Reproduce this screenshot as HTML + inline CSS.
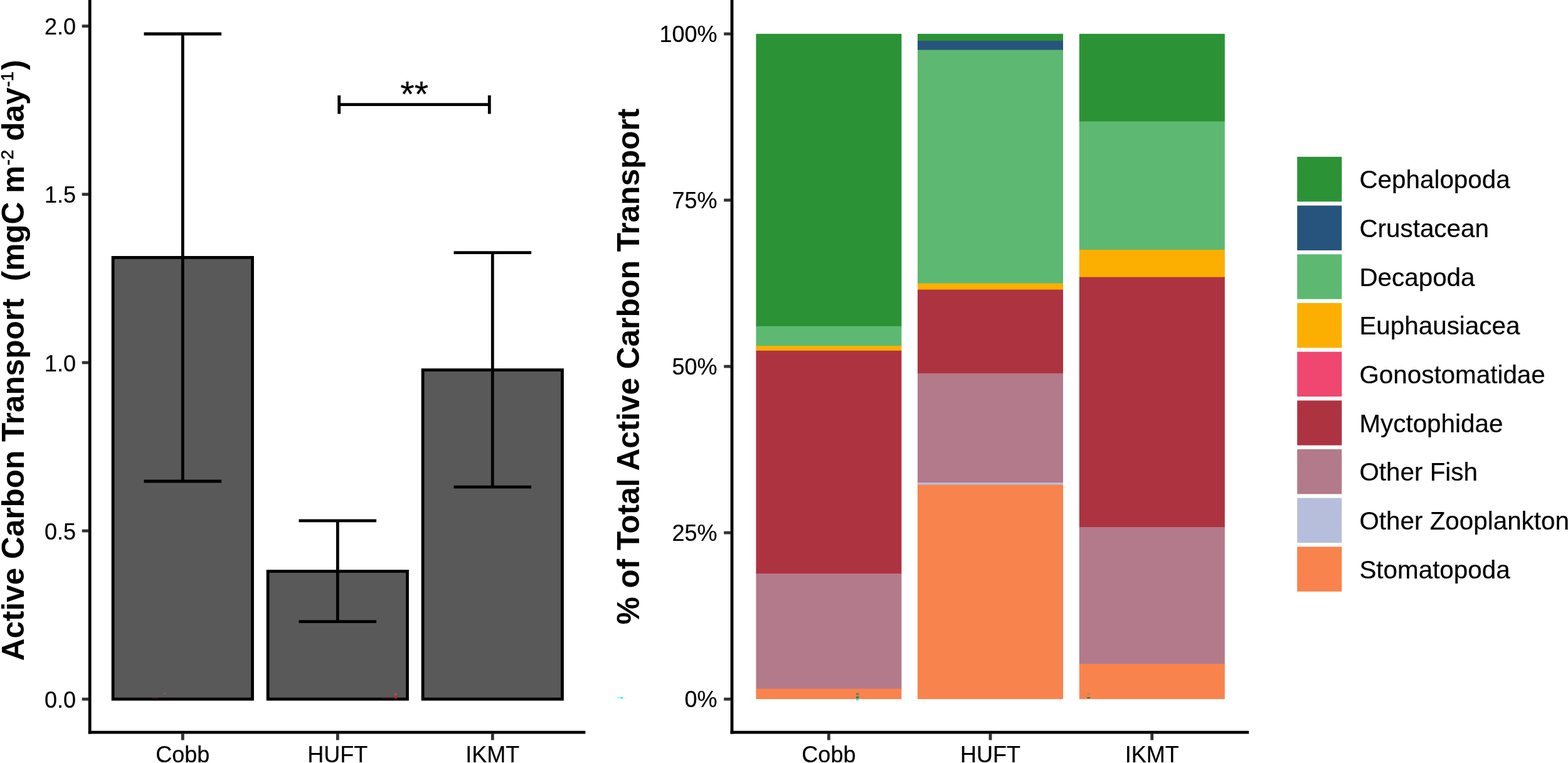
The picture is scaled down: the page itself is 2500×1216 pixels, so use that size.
<!DOCTYPE html>
<html lang="en"><head><meta charset="utf-8"><title>Active Carbon Transport</title>
<style>
html,body{margin:0;padding:0;background:#fff;}
body{width:2500px;height:1216px;overflow:hidden;}
svg{display:block;}
text{font-family:"Liberation Sans", sans-serif;fill:#000;white-space:pre;}
.tk{font-size:36px;stroke:#000;stroke-width:0.2px;}
.lg{font-size:40.4px;stroke:#000;stroke-width:0.2px;}
.ti{font-size:49.5px;font-weight:bold;}
.sup{font-size:28px;font-weight:normal;stroke:#000;stroke-width:0.6px;}
.ax{stroke:#000;stroke-width:4.8;fill:none;stroke-linecap:butt;}
.tick{stroke:#333;stroke-width:4.8;fill:none;}
.bar{fill:#595959;stroke:#000;stroke-width:4.8;stroke-linejoin:miter;}
.eb{stroke:#000;stroke-width:4.8;fill:none;}
</style></head><body>
<svg width="2500" height="1216" viewBox="0 0 2500 1216" role="img" aria-label="Active carbon transport by net type and taxonomic composition">
<rect x="0" y="0" width="2500" height="1216" fill="#fff"/>
<g>
<rect class="bar" x="180.10" y="410.40" width="222.40" height="703.80"/>
<rect class="bar" x="427.10" y="910.40" width="222.40" height="203.80"/>
<rect class="bar" x="674.10" y="589.60" width="222.40" height="524.60"/>
<path class="eb" d="M229.50 54.00H353.10M291.30 54.00V767.00M229.50 767.00H353.10"/>
<path class="eb" d="M476.50 829.80H600.10M538.30 829.80V990.70M476.50 990.70H600.10"/>
<path class="eb" d="M723.50 402.70H847.10M785.30 402.70V776.20M723.50 776.20H847.10"/>
<path class="eb" d="M540.7 152V181.4M540.7 166.7H780.3M780.3 152V181.4"/>
<text x="660.7" y="169.9" text-anchor="middle" style="font-size:57.5px;stroke:#000;stroke-width:0.2px">**</text>
</g>
<path class="ax" d="M143.20 0V1169.60"/>
<path class="ax" d="M140.80 1167.20H933.40"/>
<path class="tick" d="M130.70 41.60H141.30"/>
<text class="tk" transform="translate(121.00 55.30) scale(1 1.035)" text-anchor="end">2.0</text>
<path class="tick" d="M130.70 309.70H141.30"/>
<text class="tk" transform="translate(121.00 323.40) scale(1 1.035)" text-anchor="end">1.5</text>
<path class="tick" d="M130.70 577.90H141.30"/>
<text class="tk" transform="translate(121.00 591.60) scale(1 1.035)" text-anchor="end">1.0</text>
<path class="tick" d="M130.70 846.00H141.30"/>
<text class="tk" transform="translate(121.00 859.70) scale(1 1.035)" text-anchor="end">0.5</text>
<path class="tick" d="M130.70 1114.20H141.30"/>
<text class="tk" transform="translate(121.00 1127.90) scale(1 1.035)" text-anchor="end">0.0</text>
<path class="tick" d="M291.30 1169.10V1179.50"/>
<text class="tk" transform="translate(291.30 1214.70) scale(1 1)" text-anchor="middle">Cobb</text>
<path class="tick" d="M538.30 1169.10V1179.50"/>
<text class="tk" transform="translate(538.30 1214.70) scale(1 1.04)" text-anchor="middle">HUFT</text>
<path class="tick" d="M785.30 1169.10V1179.50"/>
<text class="tk" transform="translate(785.30 1214.70) scale(1 1.04)" text-anchor="middle">IKMT</text>
<text class="ti" transform="translate(37.5 1053.25) rotate(-90)" xml:space="preserve">Active Carbon Transport  (mgC m<tspan class="sup" dx="0.4" dy="-16.6">-2</tspan><tspan dy="16.6"> day</tspan><tspan class="sup" dx="0.7" dy="-16.6">-1</tspan><tspan dx="2.2" dy="16.6">)</tspan></text>
<g shape-rendering="auto">
<rect x="1205.40" y="53.90" width="232.00" height="467.00" fill="#2B9336"/>
<rect x="1205.40" y="519.90" width="232.00" height="32.30" fill="#5DB971"/>
<rect x="1205.40" y="551.20" width="232.00" height="8.60" fill="#FCAF00"/>
<rect x="1205.40" y="558.80" width="232.00" height="356.20" fill="#AE3340"/>
<rect x="1205.40" y="914.00" width="232.00" height="184.60" fill="#B37A8C"/>
<rect x="1205.40" y="1097.60" width="232.00" height="16.60" fill="#F9834D"/>
<rect x="1463.00" y="53.90" width="232.00" height="12.00" fill="#2B9336"/>
<rect x="1463.00" y="64.90" width="232.00" height="15.60" fill="#27547D"/>
<rect x="1463.00" y="79.50" width="232.00" height="373.00" fill="#5DB971"/>
<rect x="1463.00" y="451.50" width="232.00" height="11.10" fill="#FCAF00"/>
<rect x="1463.00" y="461.60" width="232.00" height="134.40" fill="#AE3340"/>
<rect x="1463.00" y="595.00" width="232.00" height="175.10" fill="#B37A8C"/>
<rect x="1463.00" y="769.10" width="232.00" height="4.40" fill="#B7BEDB"/>
<rect x="1463.00" y="772.50" width="232.00" height="341.70" fill="#F9834D"/>
<rect x="1720.80" y="53.90" width="232.00" height="140.60" fill="#2B9336"/>
<rect x="1720.80" y="193.50" width="232.00" height="205.60" fill="#5DB971"/>
<rect x="1720.80" y="398.10" width="232.00" height="44.50" fill="#FCAF00"/>
<rect x="1720.80" y="441.60" width="232.00" height="399.40" fill="#AE3340"/>
<rect x="1720.80" y="840.00" width="232.00" height="219.00" fill="#B37A8C"/>
<rect x="1720.80" y="1058.00" width="232.00" height="56.20" fill="#F9834D"/>
</g>
<path class="ax" d="M1167.00 0V1169.60"/>
<path class="ax" d="M1164.60 1167.20H1991.20"/>
<path class="tick" d="M1154.20 54.00H1165.10"/>
<text class="tk" transform="translate(1143.50 66.70) scale(1 1.035)" text-anchor="end">100%</text>
<path class="tick" d="M1154.20 319.00H1165.10"/>
<text class="tk" transform="translate(1143.50 331.70) scale(1 1.035)" text-anchor="end">75%</text>
<path class="tick" d="M1154.20 584.00H1165.10"/>
<text class="tk" transform="translate(1143.50 596.70) scale(1 1.035)" text-anchor="end">50%</text>
<path class="tick" d="M1154.20 849.00H1165.10"/>
<text class="tk" transform="translate(1143.50 861.70) scale(1 1.035)" text-anchor="end">25%</text>
<path class="tick" d="M1154.20 1114.20H1165.10"/>
<text class="tk" transform="translate(1143.50 1126.90) scale(1 1.035)" text-anchor="end">0%</text>
<path class="tick" d="M1321.40 1169.10V1179.50"/>
<text class="tk" transform="translate(1321.40 1214.70) scale(1 1)" text-anchor="middle">Cobb</text>
<path class="tick" d="M1579.00 1169.10V1179.50"/>
<text class="tk" transform="translate(1579.00 1214.70) scale(1 1.04)" text-anchor="middle">HUFT</text>
<path class="tick" d="M1836.70 1169.10V1179.50"/>
<text class="tk" transform="translate(1836.70 1214.70) scale(1 1.04)" text-anchor="middle">IKMT</text>
<text class="ti" transform="translate(1019.3 995.2) rotate(-90)">% of Total Active Carbon Transport</text>
<g>
<rect x="609.9" y="1111.7" width="23.2" height="1.4" fill="#5c0d0d"/>
<rect x="628.6" y="1110.2" width="4.5" height="3.0" fill="#c41a1a"/>
<rect x="628.6" y="1104.9" width="4.5" height="2.2" fill="#b85555"/>
<rect x="628.6" y="1108.1" width="4.5" height="0.7" fill="#8a5656"/>
<rect x="241.6" y="1111.9" width="11.5" height="1.3" fill="#4a0b0b"/>
<rect x="260.0" y="1104.9" width="4.9" height="1.2" fill="#a85858"/>
<rect x="983.9" y="1110.9" width="9.3" height="1.4" fill="#66fff6"/>
<rect x="989.7" y="1110.9" width="3.5" height="2.5" fill="#00fff0"/>
<rect x="995.7" y="1111.6" width="1.6" height="1.5" fill="#aafff9"/>
<rect x="1365.0" y="1104.7" width="4.4" height="3.1" fill="#4f8b52"/>
<rect x="1365.0" y="1109.8" width="4.4" height="3.1" fill="#1f8848"/>
<rect x="1365.0" y="1114.0" width="4.4" height="2.2" fill="#00ffee"/>
<rect x="1733.1" y="1105.1" width="4.8" height="0.8" fill="#7f8b55"/>
<rect x="1733.1" y="1107.3" width="4.8" height="0.6" fill="#c08a52"/>
<rect x="1733.1" y="1109.3" width="4.8" height="0.6" fill="#b88a52"/>
<rect x="1733.1" y="1111.2" width="4.8" height="1.9" fill="#008040"/>
</g>
<rect x="2068.2" y="249.90" width="71.1" height="71.4" fill="#2B9336"/>
<text class="lg" x="2167.4" y="300.20">Cephalopoda</text>
<rect x="2068.2" y="327.58" width="71.1" height="71.4" fill="#27547D"/>
<text class="lg" x="2167.4" y="377.88">Crustacean</text>
<rect x="2068.2" y="405.26" width="71.1" height="71.4" fill="#5DB971"/>
<text class="lg" x="2167.4" y="455.56">Decapoda</text>
<rect x="2068.2" y="482.94" width="71.1" height="71.4" fill="#FCAF00"/>
<text class="lg" x="2167.4" y="533.24">Euphausiacea</text>
<rect x="2068.2" y="560.62" width="71.1" height="71.4" fill="#EF476F"/>
<text class="lg" x="2167.4" y="610.92">Gonostomatidae</text>
<rect x="2068.2" y="638.30" width="71.1" height="71.4" fill="#AE3340"/>
<text class="lg" x="2167.4" y="688.60">Myctophidae</text>
<rect x="2068.2" y="715.98" width="71.1" height="71.4" fill="#B37A8C"/>
<text class="lg" x="2167.4" y="766.28">Other Fish</text>
<rect x="2068.2" y="793.66" width="71.1" height="71.4" fill="#B7BEDB"/>
<text class="lg" x="2167.4" y="843.96">Other Zooplankton</text>
<rect x="2068.2" y="871.34" width="71.1" height="71.4" fill="#F9834D"/>
<text class="lg" x="2167.4" y="921.64">Stomatopoda</text>
</svg>
</body></html>
